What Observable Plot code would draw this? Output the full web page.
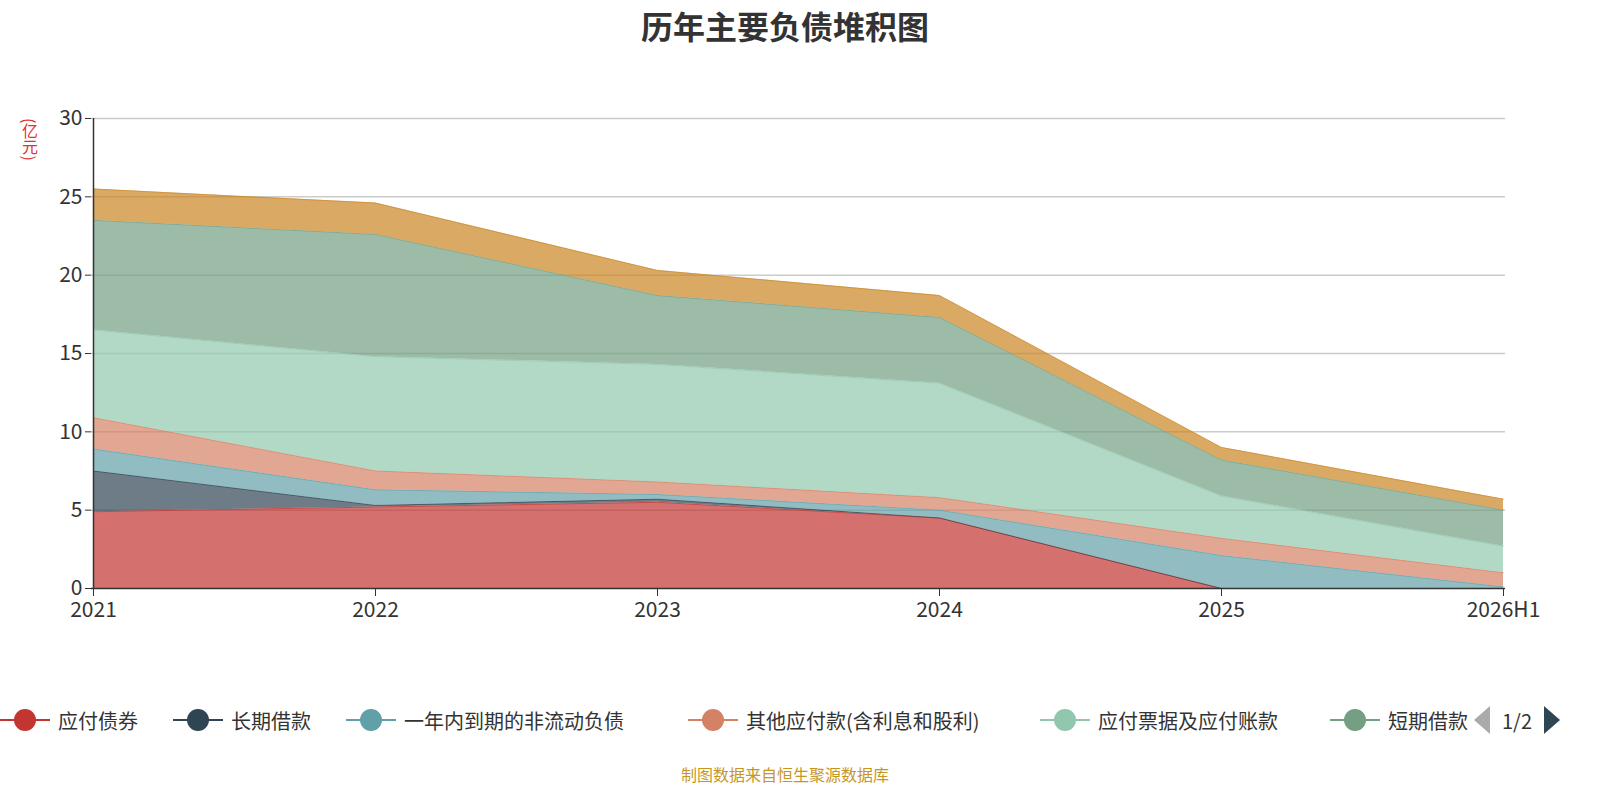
<!DOCTYPE html>
<html style="overflow:hidden"><head><meta charset="utf-8">
<script src="https://cdn.jsdelivr.net/npm/d3@7"></script>
<script src="https://cdn.jsdelivr.net/npm/@observablehq/plot@0.6"></script>
<style>
body{margin:0;width:1600px;height:800px;position:relative;font-family:"Noto Sans CJK SC","Noto Sans",sans-serif;background:#fff;overflow:hidden}
#title{position:absolute;top:2px;left:0;width:1570px;text-align:center;font-size:32px;font-weight:bold;color:#333}
#chart{position:absolute;top:0;left:0;width:1600px}
#chart svg{max-width:none}
#ylab{position:absolute;left:18px;top:118px;color:#e03030;font-size:16px;writing-mode:vertical-rl}
#legend{position:absolute;top:703px;left:0;width:1600px;height:34px;font-size:20px;color:#333;white-space:nowrap;overflow:hidden}
.li{position:absolute;top:0;display:flex;align-items:center;height:34px}
.sw{position:relative;width:50px;height:34px;margin-right:8px}
.sw .ln{position:absolute;left:0;top:16px;width:50px;height:2px}
.sw .dt{position:absolute;left:14px;top:6px;width:22px;height:22px;border-radius:50%}
#pager{position:absolute;top:703px;left:1472px;width:128px;height:34px;background:#fff;font-size:20px;color:#333;display:flex;align-items:center}
#cap{position:absolute;top:762px;left:0;width:1570px;text-align:center;color:#c8961e;font-size:16px}
</style></head><body>
<div id="chart"></div>
<div id="title">历年主要负债堆积图</div>
<div id="ylab">(亿元)</div>
<div id="legend"></div>
<div id="pager"><span style="display:inline-block;width:0;height:0;border-top:14px solid transparent;border-bottom:14px solid transparent;border-right:16px solid #aaa;margin-left:2px"></span><span style="margin:0 12px">1/2</span><span style="display:inline-block;width:0;height:0;border-top:14px solid transparent;border-bottom:14px solid transparent;border-left:16px solid #2f4554"></span></div>
<div id="cap">制图数据来自恒生聚源数据库</div>
<script>
const years = ["2021","2022","2023","2024","2025","2026H1"];
const seriesNames = ["应付债券","长期借款","一年内到期的非流动负债","其他应付款(含利息和股利)","应付票据及应付账款","短期借款","应付职工薪酬"];
const colors = ["#c23531","#2f4554","#61a0a8","#d48265","#91c7ae","#749f83","#ca8622"];
const s0 = [4.9,5.2,5.5,4.5,0,0];
const s1 = [2.6,0.1,0.2,0.0,0,0];
const s2 = [1.4,1.0,0.3,0.5,2.1,0.1];
const s3 = [2.0,1.2,0.8,0.8,1.1,0.9];
const s4 = [5.6,7.3,7.5,7.3,2.7,1.7];
const s5 = [7.0,7.8,4.4,4.2,2.3,2.3];
const s6 = [2.0,2.0,1.6,1.4,0.8,0.7];
const yTicks = [0,5,10,15,20,25,30];

const allS = [s0,s1,s2,s3,s4,s5,s6];
const data = [];
allS.forEach((s,i)=>s.forEach((v,j)=>data.push({year:years[j],value:v,series:seriesNames[i]})));

const plot = Plot.plot({
  width:1600,height:640,marginTop:118,marginBottom:52,marginLeft:91,marginRight:95,
  style:{fontSize:"21px",fontFamily:"'Noto Sans CJK SC','Noto Sans',sans-serif",color:"#333"},
  x:{type:"point",domain:years,padding:0,label:null,tickSize:8,tickPadding:6},
  y:{domain:[0,30],ticks:yTicks,label:null,grid:false,tickSize:6},
  color:{domain:seriesNames,range:colors},
  marks:[
    Plot.ruleY(yTicks.filter(t=>t>0),{stroke:"#ccc",strokeWidth:1.5}),
    Plot.areaY(data,{x:"year",y:"value",z:"series",fill:"series",fillOpacity:0.7,order:seriesNames}),
    Plot.lineY(data,Plot.stackY2({x:"year",y:"value",z:"series",stroke:"series",strokeWidth:1,strokeOpacity:0.6,order:seriesNames})),
    Plot.ruleY([0],{stroke:"#333",strokeWidth:1.5}),
    Plot.ruleX([years[0]],{stroke:"#333",strokeWidth:1.5})
  ]
});
document.getElementById("chart").appendChild(plot);

const lg = document.getElementById("legend");
const lx = [0,173,346,688,1040,1330];
seriesNames.slice(0,6).forEach((n,i)=>{
  const d=document.createElement("div");d.className="li";d.style.left=lx[i]+"px";
  d.innerHTML=`<div class="sw"><div class="ln" style="background:${colors[i]}"></div><div class="dt" style="background:${colors[i]}"></div></div><span>${n}</span>`;
  lg.appendChild(d);
});
</script>
</body></html>
